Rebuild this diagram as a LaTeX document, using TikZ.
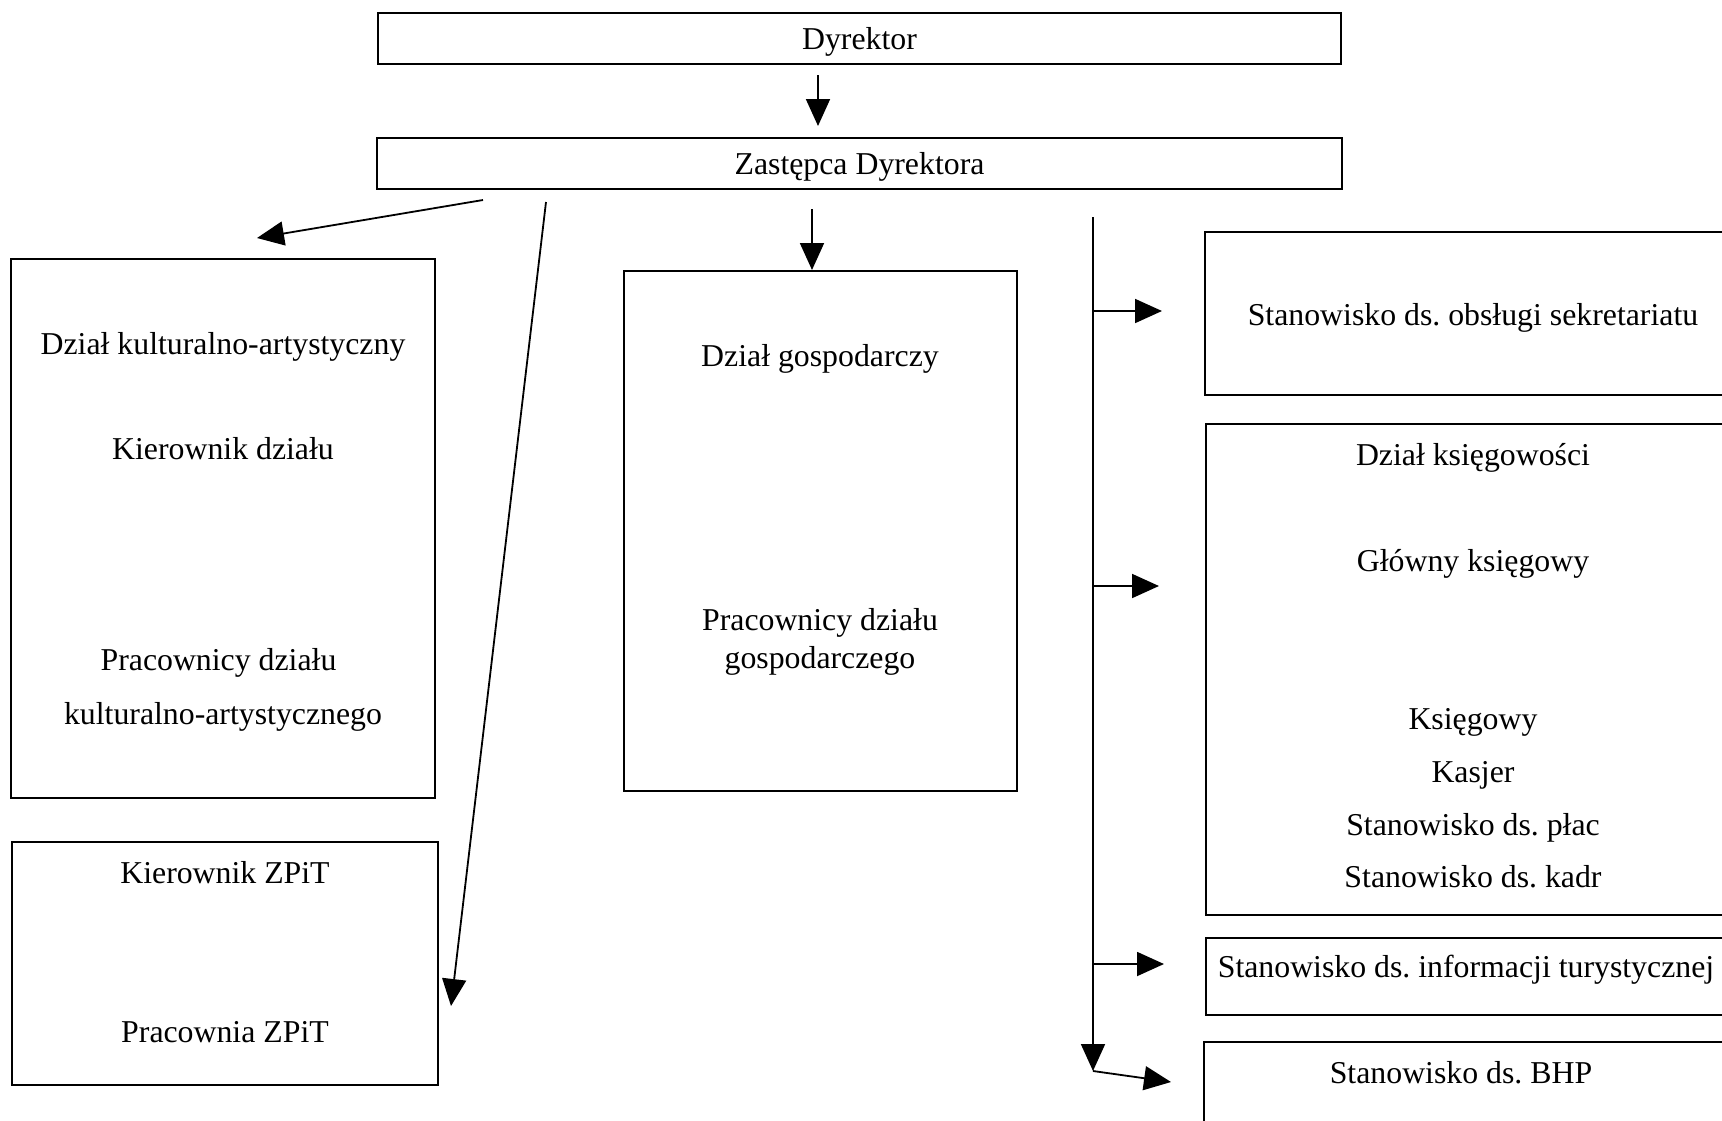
\documentclass[tikz,border=0pt]{standalone}
\usepackage{fontspec}
\setmainfont{Liberation Serif}
\usetikzlibrary{arrows.meta}
\frenchspacing
\begin{document}
\begin{tikzpicture}[x=1pt,y=-1pt,
 box/.style={draw, line width=1.1pt, inner sep=0pt},
 lbl/.style={anchor=base, inner sep=0pt, font=\fontsize{31.8}{38}\selectfont\frenchspacing},
 conn/.style={line width=1.8pt, -{Triangle[length=27pt,width=24pt]}},
]
\useasboundingbox (0,0) rectangle (1722,1120);
\fill[white] (0,0) rectangle (1722,1120);

% boxes
\node[box, minimum width=963pt, minimum height=51pt] (dyr) at (859.5,38.5) {};
\node[box, minimum width=965pt, minimum height=51pt] (zast) at (859.5,163.5) {};
\node[box, minimum width=424pt, minimum height=539pt] (kult) at (223,528.5) {};
\node[box, minimum width=426pt, minimum height=243pt] (zpit) at (225,963.5) {};
\node[box, minimum width=393pt, minimum height=520pt] (gosp) at (820.5,531) {};
\node[box, minimum width=535pt, minimum height=163pt] (sekr) at (1472.5,313.5) {};
\node[box, minimum width=535pt, minimum height=491pt] (ksieg) at (1473.5,669.5) {};
\node[box, minimum width=535pt, minimum height=77pt] (info) at (1473.5,976.5) {};
\node[box, minimum width=535pt, minimum height=100pt] (bhp) at (1471.5,1092) {};

% texts
\node[lbl] (t1) at (859.5,49.5) {Dyrektor};
\node[lbl] (t2) at (859.5,174.5) {Zastępca Dyrektora};
\node[lbl] (t3) at (223,354) {Dział kulturalno-artystyczny};
\node[lbl] (t4) at (223,459) {Kierownik działu};
\node[lbl] (t5) at (218.5,670) {Pracownicy działu};
\node[lbl] (t6) at (223,724) {kulturalno-artystycznego};
\node[lbl] (t7) at (225,883) {Kierownik ZPiT};
\node[lbl] (t8) at (225,1042) {Pracownia ZPiT};
\node[lbl] (t9) at (820,366) {Dział gospodarczy};
\node[lbl] (t10) at (820,630.5) {Pracownicy działu};
\node[lbl] (t11) at (820,668) {gospodarczego};
\node[lbl] (t12) at (1473,325) {Stanowisko ds. obsługi sekretariatu};
\node[lbl] (t13) at (1473,465) {Dział księgowości};
\node[lbl] (t14) at (1473,571) {Główny księgowy};
\node[lbl] (t15) at (1473,729) {Księgowy};
\node[lbl] (t16) at (1473,782) {Kasjer};
\node[lbl] (t17) at (1473,835) {Stanowisko ds. płac};
\node[lbl] (t18) at (1473,887) {Stanowisko ds. kadr};
\node[lbl] (t19) at (1466,977.5) {Stanowisko ds. informacji turystycznej};
\node[lbl] (t20) at (1461,1083) {Stanowisko ds. BHP};

% connector end points
\coordinate (a1s) at (818,75);
\coordinate (a1e) at (818,126);
\coordinate (a2s) at (483,200);
\coordinate (a2e) at (257,238);
\coordinate (a3s) at (546,202);
\coordinate (a3e) at (451,1006);
\coordinate (a4s) at (812,209);
\coordinate (a4e) at (812,270);
\coordinate (trs) at (1093,217);
\coordinate (tre) at (1093,1071);
\coordinate (b1s) at (1093,311);
\coordinate (b1e) at (1162,311);
\coordinate (b2s) at (1093,586);
\coordinate (b2e) at (1159,586);
\coordinate (b3s) at (1093,964);
\coordinate (b3e) at (1164,964);
\coordinate (b4e) at (1171,1082);

% connectors
\draw[conn] (a1s) -- (a1e);
\draw[conn] (a2s) -- (a2e);
\draw[conn] (a3s) -- (a3e);
\draw[conn] (a4s) -- (a4e);
\draw[conn] (trs) -- (tre);
\draw[conn] (b1s) -- (b1e);
\draw[conn] (b2s) -- (b2e);
\draw[conn] (b3s) -- (b3e);
\draw[conn] (tre) -- (b4e);
\end{tikzpicture}
\end{document}
